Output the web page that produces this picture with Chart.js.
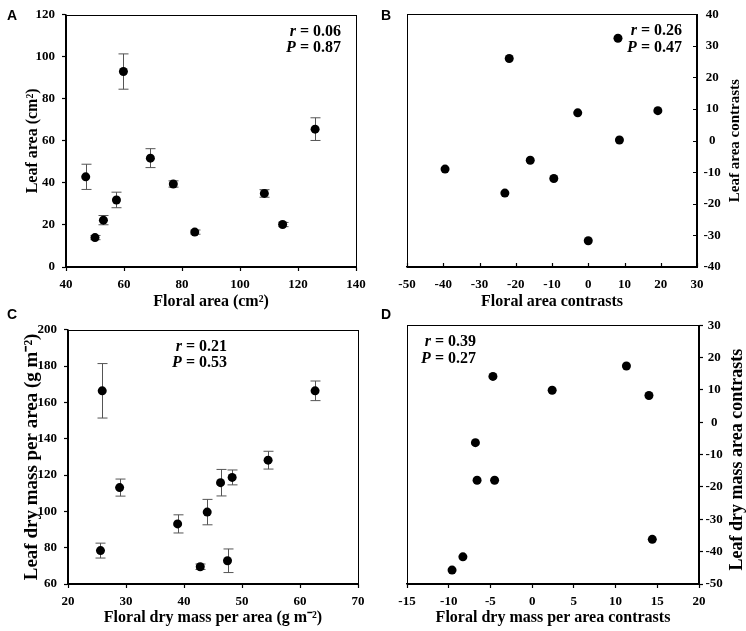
<!DOCTYPE html>
<html>
<head>
<meta charset="utf-8">
<script src="https://cdn.jsdelivr.net/npm/chart.js@4.4.0/dist/chart.umd.min.js"></script>
<style>
  body { margin: 0; background: #fff; }
  #wrap { position: relative; width: 746px; height: 631px; }
  canvas { position: absolute; }
  .tag { position: absolute; font: bold 14px "Liberation Sans", Arial, sans-serif; line-height: 14px; color: #000; }
</style>
</head>
<body>
<div id="wrap">
  <canvas id="cA" width="373" height="315" style="left:0;top:0"></canvas>
  <canvas id="cB" width="373" height="315" style="left:373px;top:0"></canvas>
  <canvas id="cC" width="373" height="316" style="left:0;top:315px"></canvas>
  <canvas id="cD" width="373" height="316" style="left:373px;top:315px"></canvas>
  <div class="tag" style="left:7px;top:8px">A</div>
  <div class="tag" style="left:381px;top:8px">B</div>
  <div class="tag" style="left:7px;top:307px">C</div>
  <div class="tag" style="left:381px;top:307px">D</div>
</div>
<script>
// A - species means, floral area vs leaf area
const floralAreaA  = [46.8, 50.0, 52.9, 57.4, 59.8, 69.1, 77.0, 84.4, 108.4, 114.7, 125.9];
const leafAreaA    = [42.9, 14.0, 22.3, 31.9, 93.0, 51.8, 39.5, 16.6, 35.0, 20.2, 65.6];
const leafAreaErrA = [6.0, 1.0, 2.2, 3.7, 8.4, 4.5, 1.5, 1.0, 1.8, 1.0, 5.4];
const statsA = ['0.06', '0.87'];

// B - independent contrasts
const floralContrB = [-39.5, -23.0, -21.8, -16.0, -9.5, -2.9, 0.0, 8.2, 8.6, 19.2];
const leafContrB   = [-9.0, -16.6, 26.0, -6.2, -12.0, 8.8, -31.7, 32.4, 0.2, 9.5];
const statsB = ['0.26', '0.47'];

// C - dry mass per area, species means
const floralDmC  = [25.6, 25.9, 28.9, 38.9, 42.8, 44.0, 46.3, 47.5, 48.3, 54.5, 62.6];
const leafDmC    = [78.4, 166.4, 113.1, 93.1, 69.5, 99.6, 115.8, 72.8, 118.7, 128.2, 166.4];
const leafDmErrC = [4.1, 15.0, 4.7, 5.0, 1.5, 7.0, 7.3, 6.5, 4.1, 4.9, 5.4];
const statsC = ['0.21', '0.53'];

// D - dry mass per area contrasts
const floralDmContrD = [-9.6, -8.3, -6.8, -6.6, -4.7, -4.5, 2.4, 11.3, 14.0, 14.4];
const leafDmContrD   = [-45.7, -41.6, -6.3, -17.9, 14.2, -17.9, 9.9, 17.4, 8.3, -36.2];
const statsD = ['0.39', '0.27'];

const SERIF = '"Liberation Serif", "Times New Roman", serif';

function toPoints(xs, ys) {
    return xs.map((x, i) => ({ x: x, y: ys[i] }));
}

const panelExtras = {
    id: 'panelExtras',
    beforeDatasetsDraw(chart, args, opts) {
        if (!opts.err) return;
        let ctx = chart.ctx;
        let xs = chart.scales.x, ys = chart.scales.y;
        ctx.save();
        ctx.strokeStyle = '#555';
        ctx.lineWidth = 1;
        chart.data.datasets[0].data.forEach((p, i) => {
            let px = Math.round(xs.getPixelForValue(p.x)) + 0.5;
            let top = ys.getPixelForValue(p.y + opts.err[i]);
            let bot = ys.getPixelForValue(p.y - opts.err[i]);
            ctx.beginPath();
            ctx.moveTo(px, top); ctx.lineTo(px, bot);
            ctx.moveTo(px - 5, top); ctx.lineTo(px + 5, top);
            ctx.moveTo(px - 5, bot); ctx.lineTo(px + 5, bot);
            ctx.stroke();
        });
        ctx.restore();
    },
    afterDraw(chart, args, opts) {
        let ctx = chart.ctx;
        let a = chart.chartArea;
        ctx.save();
        // close the box
        ctx.strokeStyle = '#000';
        ctx.lineWidth = 1;
        ctx.strokeRect(Math.round(a.left) + 0.5, Math.round(a.top) + 0.5,
            Math.round(a.right - a.left), Math.round(a.bottom - a.top));

        // ticks pointing into the plot
        if (opts.inwardTicks) {
            ctx.lineWidth = 1.2;
            ctx.beginPath();
            chart.scales.x.ticks.forEach(t => {
                let px = Math.round(chart.scales.x.getPixelForValue(t.value)) + 0.5;
                ctx.moveTo(px, a.bottom); ctx.lineTo(px, a.bottom - 4);
            });
            chart.scales.y.ticks.forEach(t => {
                let py = Math.round(chart.scales.y.getPixelForValue(t.value)) + 0.5;
                ctx.moveTo(a.right, py); ctx.lineTo(a.right - 4, py);
            });
            ctx.stroke();
        }

        // right side title, read bottom to top
        if (opts.rightTitle) {
            ctx.fillStyle = '#000';
            ctx.font = 'bold ' + opts.rightTitle.size + 'px ' + SERIF;
            ctx.textAlign = 'center';
            ctx.textBaseline = 'middle';
            ctx.translate(opts.rightTitle.x, (a.top + a.bottom) / 2 + (opts.rightTitle.dy || 0));
            ctx.rotate(-Math.PI / 2);
            ctx.fillText(opts.rightTitle.text, 0, 0);
            ctx.setTransform(1, 0, 0, 1, 0, 0);
        }

        // r and P values
        if (opts.stats) {
            let xr = a.left + opts.stats.x;
            let names = ['r', 'P'];
            ctx.fillStyle = '#000';
            ctx.textBaseline = 'middle';
            ctx.textAlign = 'right';
            opts.stats.values.forEach((v, i) => {
                let y = a.top + opts.stats.y + i * 16.5;
                let rest = ' = ' + v;
                ctx.font = 'bold 16px ' + SERIF;
                let w = ctx.measureText(rest).width;
                ctx.fillText(rest, xr, y);
                ctx.font = 'italic bold 16px ' + SERIF;
                ctx.fillText(names[i], xr - w, y);
            });
        }
        ctx.restore();
    }
};

function axisFont(size) {
    return { family: SERIF, size: size, weight: 'bold' };
}

function makePanel(canvas, p) {
    let tickFont = axisFont(13);
    let xAxis = {
        type: 'linear',
        position: 'bottom',
        min: p.xMin, max: p.xMax,
        afterFit: s => { s.height = p.xHeight; },
        ticks: { stepSize: p.xStep, autoSkip: false, maxRotation: 0, color: '#000', font: tickFont, padding: p.inward ? 10 : 6 },
        grid: { display: true, drawOnChartArea: false, drawTicks: !p.inward, tickLength: 4, tickWidth: 1.2, color: '#000' },
        border: { display: true, color: '#000', width: 1.5 },
        title: { display: true, text: p.xTitle, color: '#000', font: axisFont(16), padding: { top: 0, bottom: p.xTitlePad } }
    };
    let yAxis = {
        type: 'linear',
        position: p.yRight ? 'right' : 'left',
        min: p.yMin, max: p.yMax,
        afterFit: s => { s.width = p.yWidth; },
        ticks: { stepSize: p.yStep, autoSkip: false, color: '#000', font: tickFont,
                 padding: p.yTickPad, crossAlign: p.yRight ? 'center' : 'near' },
        grid: { display: true, drawOnChartArea: false, drawTicks: !p.inward, tickLength: 4, tickWidth: 1.2, color: '#000' },
        border: { display: true, color: '#000', width: 1.5 },
        title: p.yRight ? { display: false } :
            { display: true, text: p.yTitle, color: '#000', font: axisFont(p.yTitleSize), padding: { top: p.yTitlePad, bottom: 0 } }
    };

    return new Chart(canvas.getContext('2d'), {
        type: 'scatter',
        data: {
            datasets: [{
                data: toPoints(p.xs, p.ys),
                backgroundColor: '#000',
                borderWidth: 0,
                pointRadius: 4.5,
                pointHoverRadius: 4.5
            }]
        },
        options: {
            responsive: false,
            animation: false,
            devicePixelRatio: 1,
            layout: { padding: p.pad },
            scales: { x: xAxis, y: yAxis },
            plugins: {
                legend: { display: false },
                tooltip: { enabled: false },
                panelExtras: {
                    err: p.err,
                    inwardTicks: p.inward,
                    rightTitle: p.yRight ? { text: p.yTitle, size: p.yTitleSize, x: p.yTitleX, dy: p.yTitleDy } : null,
                    stats: { values: p.stats, x: p.statsX, y: 17 }
                }
            }
        },
        plugins: [panelExtras]
    });
}

makePanel(document.getElementById('cA'), {
    xs: floralAreaA, ys: leafAreaA, err: leafAreaErrA, stats: statsA, statsX: 275,
    xMin: 40, xMax: 140, xStep: 20, yMin: 0, yMax: 120, yStep: 20,
    xTitle: 'Floral area (cm²)', yTitle: 'Leaf area (cm²)', yTitleSize: 16,
    pad: { left: 0, top: 9, right: 17, bottom: 0 },
    xHeight: 48, yWidth: 66, yTickPad: 7, xTitlePad: 3.4, yTitlePad: 23.4
});

makePanel(document.getElementById('cB'), {
    xs: floralContrB, ys: leafContrB, err: null, stats: statsB, statsX: 275,
    xMin: -50, xMax: 30, xStep: 10, yMin: -40, yMax: 40, yStep: 10,
    xTitle: 'Floral area contrasts', yTitle: 'Leaf area contrasts', yTitleSize: 15,
    yRight: true, yTitleX: 362, inward: true,
    pad: { left: 34, top: 9, right: 0, bottom: 0 },
    xHeight: 48, yWidth: 49, yTickPad: 6.5, xTitlePad: 3.9
});

makePanel(document.getElementById('cC'), {
    xs: floralDmC, ys: leafDmC, err: leafDmErrC, stats: statsC, statsX: 159,
    xMin: 20, xMax: 70, xStep: 10, yMin: 60, yMax: 200, yStep: 20,
    xTitle: 'Floral dry mass per area (g m⁻²)', yTitle: 'Leaf dry mass per area (g m⁻²)', yTitleSize: 19,
    pad: { left: 0, top: 10, right: 15, bottom: 0 },
    xHeight: 47, yWidth: 68, yTickPad: 7, xTitlePad: 3.9, yTitlePad: 20.6
});

makePanel(document.getElementById('cD'), {
    xs: floralDmContrD, ys: leafDmContrD, err: null, stats: statsD, statsX: 69,
    xMin: -15, xMax: 20, xStep: 5, yMin: -50, yMax: 30, yStep: 10,
    xTitle: 'Floral dry mass per area contrasts', yTitle: 'Leaf dry mass area contrasts', yTitleSize: 18,
    yRight: true, yTitleX: 364, yTitleDy: 5,
    pad: { left: 34, top: 10, right: 0, bottom: 0 },
    xHeight: 47, yWidth: 47, yTickPad: 2.5, xTitlePad: 3.9
});
</script>
</body>
</html>
